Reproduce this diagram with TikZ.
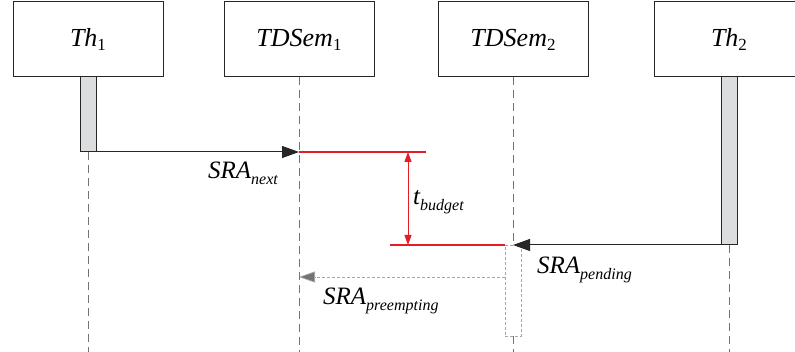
\documentclass[tikz,border=0pt]{standalone}
\usepackage{fontspec}
\setmainfont{Liberation Serif}[ItalicFont={Liberation Serif Italic}]
\usetikzlibrary{positioning, arrows.meta}
\definecolor{budgetred}{RGB}{228,30,38}
\definecolor{barfill}{RGB}{220,221,223}
\newcommand{\idx}[1]{\raisebox{-6pt}{\fontsize{16}{16}\selectfont #1}}
\newcommand{\num}[1]{\raisebox{-4pt}{\fontsize{17}{17}\selectfont\upshape #1}}

\begin{document}
\begin{tikzpicture}[
  x=1pt, y=-1pt,
  party/.style={rectangle, draw=black!85, line width=1pt, minimum width=150pt,
    minimum height=75pt, inner sep=0pt, outer sep=0pt,
    font=\rmfamily\fontsize{26}{30}\selectfont\itshape},
  bar/.style={rectangle, draw=black!85, fill=barfill, line width=1pt,
    minimum width=16pt, inner sep=0pt, outer sep=0pt, anchor=north},
  ghostbar/.style={rectangle, draw=black!35, dash pattern=on 3pt off 2pt,
    line width=0.7pt, minimum width=16pt, inner sep=0pt, outer sep=0pt, anchor=north},
  life/.style={draw=black!55, line width=0.7pt, dash pattern=on 8pt off 5pt},
  msg/.style={-{Triangle[length=17pt, width=12pt]}, line width=1pt, draw=black!85},
  reply/.style={-{Triangle[length=16pt, width=11pt, fill=black!55]}, draw=black!35,
    line width=0.7pt, dash pattern=on 3pt off 2pt},
  budget/.style={color=budgetred, line width=1.2pt},
  span/.style={{Triangle[length=10pt, width=7pt]}-{Triangle[length=10pt, width=7pt]},
    color=budgetred, line width=1pt},
  msglabel/.style={anchor=base west, inner sep=0pt,
    font=\rmfamily\fontsize{25}{30}\selectfont\itshape}
]
  \useasboundingbox (0,0) rectangle (795,352);

  % Participants
  \node[party] (th1) at (88,39.5) {Th\num{1}};
  \node[party] (sem1) at (299,39.5) {TDSem\num{1}};
  \node[party] (sem2) at (513,39.5) {TDSem\num{2}};
  \node[party] (th2) at (729,39.5) {Th\num{2}};

  % Activations
  \node[bar, minimum height=75pt] (bar1) at (th1.south) {};
  \node[bar, minimum height=168pt] (bar2) at (th2.south) {};
  \node[ghostbar, minimum height=91pt] (bar3) at (513,245) {};

  % Lifeline ends
  \coordinate (end1) at (88,352);
  \coordinate (end2) at (299,352);
  \coordinate (end3) at (513,352);
  \coordinate (end4) at (729,352);

  % Lifelines
  \draw[life] (bar1.south) -- (end1);
  \draw[life] (sem1.south) -- (end2);
  \draw[life] (sem2.south) -- (bar3.north);
  \draw[life] (bar3.south) -- (end3);
  \draw[life] (bar2.south) -- (end4);

  % Points on the lifelines
  \coordinate (hit1) at (299,152);
  \coordinate (hit2) at (513,245);
  \coordinate (hit3) at (299,277);
  \coordinate (topend) at (426,152);
  \coordinate (lowstart) at (390,245);
  \coordinate (lowend) at (505,245);
  \coordinate (spana) at (408,152);
  \coordinate (spanb) at (408,245);

  % Messages
  \draw[msg] (bar1.south east) -- (hit1);
  \draw[msg] (bar2.south west) -- (hit2);
  \draw[reply] (bar3.west |- hit3) -- (hit3);

  % Budget window
  \draw[budget] (hit1) -- (topend) (lowstart) -- (lowend);
  \draw[span] (spana) -- (spanb);

  % Labels
  \node[msglabel] (lnext) at (208,179) {SRA\idx{next}};
  \node[msglabel] (lbudget) at (413,205) {t\idx{budget}};
  \node[msglabel] (lpend) at (537,274) {SRA\idx{pending}};
  \node[msglabel] (lpre) at (323,305) {SRA\idx{preempting}};
\end{tikzpicture}
\end{document}
